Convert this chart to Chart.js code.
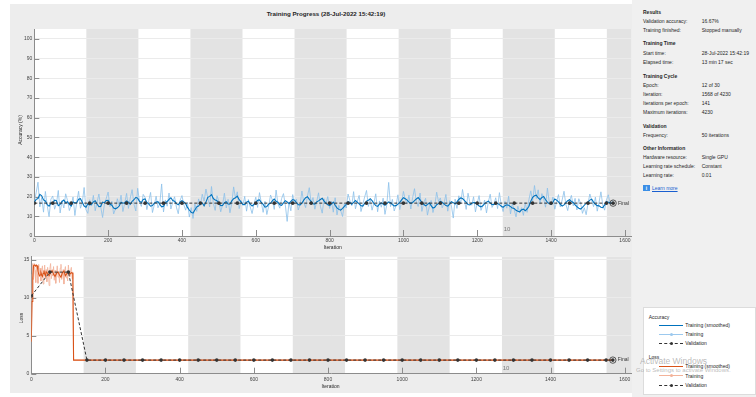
<!DOCTYPE html>
<html lang="en">
<head>
<meta charset="UTF-8" />
<title>Training Progress</title>
<script src="https://cdn.jsdelivr.net/npm/chart.js"></script>
<style>
  body { margin: 0; width: 756px; height: 397px; background: #fff; position: relative; overflow: hidden;
         font-family: "Liberation Sans", Arial, sans-serif; color: #262626; }
  .abs { position: absolute; }
  .t { position: absolute; font-size: 5px; line-height: 6px; white-space: nowrap; }
  .c { position: absolute; white-space: nowrap; transform: translate(-50%, -50%); }
  .b { font-weight: bold; }
  .ln { position: absolute; height: 0; width: 24px; left: 659px; }
  .mk { position: absolute; width: 3px; height: 3px; border-radius: 50%; left: 669.5px; }
  #painel { left: 10px; top: 4px; width: 622px; height: 389px; background: #ededed; }
  #lateral { left: 632px; top: 0; width: 124px; height: 397px; background: #f0f0f0; }
  #legenda { left: 643px; top: 307px; width: 113px; height: 88px; background: #fff; border: 1px solid #dcdcdc; box-sizing: border-box; }
  canvas { position: absolute; left: 0; }
</style>
</head>
<body>

<div class="abs" id="painel"></div>
<div class="abs" id="lateral"></div>

<div class="c b" style="left:326px; top:13.3px; font-size:6.2px;">Training Progress (28-Jul-2022 15:42:19)</div>

<canvas id="graficoAcc" width="636" height="250" style="top:0"></canvas>
<canvas id="graficoLoss" width="636" height="147" style="top:250px"></canvas>

<div class="c" style="left:20px; top:130px; font-size:5px; transform:translate(-50%,-50%) rotate(-90deg);">Accuracy (%)</div>
<div class="c" style="left:332.7px; top:247.3px; font-size:5px;">Iteration</div>
<div class="c" style="left:21px; top:317.5px; font-size:5px; transform:translate(-50%,-50%) rotate(-90deg);">Loss</div>
<div class="c" style="left:330.6px; top:386px; font-size:5px;">Iteration</div>

<div class="c" style="left:507px; top:229px; font-size:6px; color:#7a7a7a;">10</div>
<div class="c" style="left:506px; top:368.3px; font-size:6px; color:#7a7a7a;">10</div>

<!-- painel lateral -->
<div class="t b" style="left:643px; top:8.7px;">Results</div>
<div class="t" style="left:643px; top:18px;">Validation accuracy:</div><div class="t" style="left:701.7px; top:18px;">16.67%</div>
<div class="t" style="left:643px; top:27px;">Training finished:</div><div class="t" style="left:701.7px; top:27px;">Stopped manually</div>
<div class="t b" style="left:643px; top:40.3px;">Training Time</div>
<div class="t" style="left:643px; top:49.7px;">Start time:</div><div class="t" style="left:701.7px; top:49.7px;">28-Jul-2022 15:42:19</div>
<div class="t" style="left:643px; top:58.7px;">Elapsed time:</div><div class="t" style="left:701.7px; top:58.7px;">13 min 17 sec</div>
<div class="t b" style="left:643px; top:72.7px;">Training Cycle</div>
<div class="t" style="left:643px; top:82px;">Epoch:</div><div class="t" style="left:701.7px; top:82px;">12 of 30</div>
<div class="t" style="left:643px; top:91.3px;">Iteration:</div><div class="t" style="left:701.7px; top:91.3px;">1568 of 4230</div>
<div class="t" style="left:643px; top:100.3px;">Iterations per epoch:</div><div class="t" style="left:701.7px; top:100.3px;">141</div>
<div class="t" style="left:643px; top:109.3px;">Maximum iterations:</div><div class="t" style="left:701.7px; top:109.3px;">4230</div>
<div class="t b" style="left:643px; top:122.7px;">Validation</div>
<div class="t" style="left:643px; top:131.7px;">Frequency:</div><div class="t" style="left:701.7px; top:131.7px;">50 iterations</div>
<div class="t b" style="left:643px; top:145px;">Other Information</div>
<div class="t" style="left:643px; top:153.7px;">Hardware resource:</div><div class="t" style="left:701.7px; top:153.7px;">Single GPU</div>
<div class="t" style="left:643px; top:162.7px;">Learning rate schedule:</div><div class="t" style="left:701.7px; top:162.7px;">Constant</div>
<div class="t" style="left:643px; top:171.7px;">Learning rate:</div><div class="t" style="left:701.7px; top:171.7px;">0.01</div>
<div class="abs" style="left:643px; top:185px; width:7px; height:6px; background:#3a8ee6; color:#fff; font-size:5px; line-height:6px; text-align:center; font-weight:bold;">i</div>
<div class="t" style="left:652px; top:185px; color:#1a5fd0; text-decoration:underline;">Learn more</div>

<!-- legenda -->
<div class="abs" id="legenda"></div>
<div class="t" style="left:648.7px; top:313.7px;">Accuracy</div>
<div class="ln" style="top:324.5px; border-top:1px solid #0072bd;"></div>
<div class="t" style="left:685.3px; top:322px;">Training (smoothed)</div>
<div class="ln" style="top:333.5px; border-top:1px solid #9cc9ee;"></div>
<div class="mk" style="top:332.5px; background:#9cc9ee;"></div>
<div class="t" style="left:685.3px; top:331px;">Training</div>
<div class="ln" style="top:342.8px; border-top:1px dashed #333;"></div>
<div class="mk" style="top:341.8px; background:#333;"></div>
<div class="t" style="left:685.3px; top:340.3px;">Validation</div>
<div class="t" style="left:648.7px; top:353.7px;">Loss</div>
<div class="ln" style="top:365.5px; border-top:1px solid #d95319;"></div>
<div class="t" style="left:685.3px; top:363px;">Training (smoothed)</div>
<div class="ln" style="top:375.2px; border-top:1px solid #f3b39a;"></div>
<div class="mk" style="top:374.2px; background:#f3b39a;"></div>
<div class="t" style="left:685.3px; top:372.7px;">Training</div>
<div class="ln" style="top:384.5px; border-top:1px dashed #333;"></div>
<div class="mk" style="top:383.5px; background:#333;"></div>
<div class="t" style="left:685.3px; top:382px;">Validation</div>

<div class="abs" style="left:640px; top:357px; font-size:8.5px; line-height:9px; color:rgba(140,140,140,0.6); white-space:nowrap;">Activate Windows</div>
<div class="abs" style="left:636px; top:367px; font-size:6px; line-height:7px; color:rgba(140,140,140,0.6); white-space:nowrap;">Go to Settings to activate Windows.</div>

<script>
  // ---- dados ----
  var iteracoesPorEpoca = 141;
  var iteracaoFinal = 1568;
  var passo = 5;   // um ponto a cada 5 iterações nas curvas de acurácia

  var ticksX = [0, 200, 400, 600, 800, 1000, 1200, 1400, 1600];
  var ticksAcc = [0, 10, 20, 30, 40, 50, 60, 70, 80, 90, 100];
  var ticksLoss = [0, 5, 10, 15];

  var accTreino = [
    17.2, 21.9, 27.3, 14.8, 19.5, 12.1, 22.6, 15.4, 9.8, 18.7, 20.3, 13.6, 16.4, 23.1, 11.7, 17.9, 14.2, 21.4, 18.0, 12.9,
    15.6, 19.8, 10.4, 17.3, 22.7, 14.1, 16.9, 24.6, 13.3, 11.5, 18.4, 15.2, 20.6, 12.8, 17.1, 21.3, 14.7, 9.4, 16.2, 19.1,
    22.3, 14.9, 17.6, 11.2, 13.8, 18.9, 15.3, 20.7, 12.4, 16.8, 21.6, 14.0, 19.3, 23.5, 16.1, 12.7, 24.2, 17.4, 15.0, 21.1,
    19.6, 13.4, 17.8, 22.1, 11.9, 15.7, 20.2, 14.3, 16.5, 26.4, 12.2, 18.3, 15.1, 21.8, 13.7, 17.2, 19.9, 14.6, 11.3, 18.1,
    20.5, 15.9, 13.1, 17.0, 9.6, 14.4, 8.9, 16.3, 12.5, 18.8, 15.4, 21.2, 17.7, 23.8, 19.4, 14.8, 25.1, 16.6, 13.0, 20.4,
    17.5, 12.3, 15.8, 21.7, 14.2, 18.6, 11.8, 16.7, 24.9, 19.2, 22.4, 13.9, 17.9, 15.5, 20.1, 12.6, 18.5, 14.7, 11.4, 16.0,
    19.7, 14.5, 22.0, 16.9, 12.0, 17.6, 10.9, 15.3, 20.8, 18.2, 13.5, 23.3, 16.4, 14.1, 19.0, 21.5, 15.7, 7.4, 17.3, 12.8,
    21.0, 16.2, 18.7, 13.2, 15.9, 22.8, 17.0, 14.4, 20.3, 24.5, 16.8, 19.5, 13.6, 17.4, 21.9, 15.1, 11.6, 18.9, 16.3, 20.0,
    14.0, 17.7, 12.1, 19.4, 10.7, 15.6, 12.9, 9.9, 16.5, 14.2, 21.3, 18.0, 15.4, 22.5, 13.8, 17.5, 20.6, 12.4, 16.1, 19.8,
    23.1, 15.0, 18.3, 13.1, 16.7, 21.4, 12.3, 17.8, 14.6, 19.2, 11.0, 16.0, 27.2, 14.9, 18.6, 12.7, 15.5, 20.9, 13.4, 17.1,
    22.6, 18.4, 16.2, 20.7, 13.7, 19.6, 24.0, 17.2, 15.0, 21.8, 12.5, 16.9, 19.1, 10.6, 14.8, 18.0, 11.9, 15.7, 22.2, 17.5,
    19.3, 14.3, 16.6, 21.1, 12.6, 17.9, 15.2, 9.1, 18.7, 14.0, 20.4, 16.3, 23.6, 18.1, 13.5, 21.7, 17.0, 15.6, 19.9, 12.2,
    16.8, 20.5, 13.0, 15.4, 18.2, 11.7, 17.3, 21.2, 14.5, 16.1, 19.4, 13.9, 22.0, 15.8, 12.4, 17.6, 14.1, 20.2, 11.2, 16.4,
    13.3, 9.7, 15.1, 11.8, 14.4, 10.5, 16.9, 12.0, 18.5, 22.9, 17.7, 25.6, 19.0, 23.4, 16.2, 21.5, 18.8, 14.6, 24.3, 17.1,
    15.9, 19.8, 13.6, 17.4, 21.0, 14.7, 18.3, 22.7, 16.0, 12.9, 17.8, 20.6, 15.3, 19.1, 13.2, 18.9, 16.6, 11.5, 14.3, 10.8,
    16.5, 21.3, 18.0, 14.9, 19.7, 12.6, 17.2, 22.4, 15.6, 13.1, 18.4, 20.9, 16.1, 17.6
  ];
  var accTreinoFinal = 18.0;

  var accSuave = [
    17.2, 18.6, 19.0, 21.1, 20.4, 18.3, 17.8, 15.9, 15.1, 16.8, 16.3, 18.2, 17.9, 15.4, 16.0, 17.5, 18.2, 16.9, 17.4, 16.0,
    15.2, 17.3, 16.8, 17.0, 18.6, 18.9, 17.1, 15.2, 14.6, 16.4, 15.8, 16.1, 17.3, 17.9, 16.2, 14.9, 15.0, 17.2, 16.9, 18.0,
    18.1, 16.2, 15.6, 14.2, 13.8, 14.3, 15.2, 17.1, 16.6, 16.9, 17.8, 17.2, 16.1, 17.6, 18.4, 19.6, 19.2, 17.6, 17.0, 18.5,
    18.8, 17.0, 16.3, 15.1, 15.4, 16.7, 17.2, 17.4, 16.0, 14.8, 15.1, 16.9, 17.5, 18.6, 19.4, 18.0, 17.6, 16.4, 15.8, 17.3,
    17.9, 17.3, 16.4, 14.5, 13.2, 12.0, 11.6, 13.2, 14.8, 15.2, 16.5, 16.8, 15.3, 17.2, 19.6, 20.1, 21.0, 19.0, 18.2, 17.9,
    16.7, 15.4, 15.5, 16.9, 17.4, 16.2, 16.1, 17.8, 18.9, 19.4, 20.2, 18.4, 17.3, 16.0, 15.9, 17.2, 17.6, 16.1, 15.2, 16.0,
    16.8, 18.1, 18.3, 17.0, 16.0, 14.6, 14.9, 16.2, 16.6, 17.9, 18.7, 17.6, 17.1, 15.9, 15.6, 16.8, 17.9, 17.3, 16.4, 17.6,
    18.5, 18.1, 17.0, 15.9, 15.8, 16.7, 18.2, 19.4, 19.9, 18.6, 17.5, 16.4, 16.2, 17.3, 17.8, 18.5, 19.1, 17.7, 16.6, 15.8,
    15.4, 16.2, 17.2, 15.6, 14.3, 13.5, 13.1, 14.0, 15.0, 16.1, 17.4, 17.0, 16.1, 17.1, 18.0, 17.2, 16.3, 15.4, 15.2, 16.5,
    17.7, 18.1, 18.9, 17.9, 16.5, 15.4, 15.0, 16.1, 16.8, 16.2, 15.6, 16.4, 17.3, 16.9, 16.0, 15.3, 15.4, 16.2, 17.1, 18.3,
    19.4, 18.9, 18.2, 17.2, 16.6, 17.0, 17.9, 18.8, 19.5, 18.3, 17.0, 16.1, 15.3, 15.9, 16.8, 15.4, 14.2, 14.6, 15.9, 16.4,
    17.6, 17.2, 16.3, 15.4, 15.1, 16.2, 17.4, 16.9, 16.2, 17.3, 18.6, 19.3, 19.0, 18.1, 17.1, 16.0, 15.8, 16.6, 17.0, 16.8,
    16.1, 15.2, 14.8, 15.3, 16.4, 17.2, 17.7, 16.8, 15.9, 16.0, 16.6, 16.5, 15.9, 15.1, 14.6, 15.4, 15.8, 15.6, 14.9, 14.2,
    13.9, 13.0, 12.6, 12.2, 13.3, 13.6, 12.8, 13.7, 15.1, 17.6, 19.6, 20.4, 20.7, 19.3, 18.5, 19.5, 20.0, 18.4, 17.2, 16.3,
    16.0, 17.1, 18.8, 18.2, 17.3, 16.1, 15.2, 15.8, 16.9, 17.9, 18.4, 17.5, 17.0, 15.8, 14.9, 14.1, 13.7, 14.5, 15.6, 16.7,
    17.2, 18.2, 18.7, 17.2, 16.1, 15.4, 15.3, 14.6, 14.4, 15.8, 17.4, 17.1, 16.8, 16.5
  ];
  var accSuaveFinal = 16.9;

  var valIter = [0, 50, 100, 150, 200, 250, 300, 350, 400, 450, 500, 550, 600, 650, 700, 750,
                 800, 850, 900, 950, 1000, 1050, 1100, 1150, 1200, 1250, 1300, 1350, 1400, 1450, 1500, 1550, 1568];
  var valAcc = [16.67, 16.67, 16.67, 16.67, 16.67, 16.67, 16.67, 16.67, 16.67, 16.67, 16.67,
                16.67, 16.67, 16.67, 16.67, 16.67, 16.67, 16.67, 16.67, 16.67, 16.67, 16.67,
                16.67, 16.67, 16.67, 16.67, 16.67, 16.67, 16.67, 16.67, 16.67, 16.67, 16.67];
  var valLoss = [10.23, 13.37, 13.37, 1.79, 1.79, 1.79, 1.79, 1.79, 1.79, 1.79, 1.79,
                 1.79, 1.79, 1.79, 1.79, 1.79, 1.79, 1.79, 1.79, 1.79, 1.79, 1.79,
                 1.79, 1.79, 1.79, 1.79, 1.79, 1.79, 1.79, 1.79, 1.79, 1.79, 1.79];

  var lossIter = [0, 2, 4, 6, 8, 10, 12, 14, 16, 18, 20, 22, 24, 26, 28, 30, 32, 34, 36, 38, 40,
                  42, 44, 46, 48, 50, 52, 54, 56, 58, 60, 62, 64, 66, 68, 70, 72, 74, 76, 78, 80,
                  82, 84, 86, 88, 90, 92, 94, 96, 98, 100, 102, 104, 106, 108, 110, 112, 114, 1568];
  var lossTreino = [4.2, 13.1, 14.5, 12.4, 14.5, 13.6, 12.0, 14.1, 13.2, 11.9, 14.4, 12.8, 13.9, 12.2, 13.5,
                    14.2, 11.8, 13.0, 14.3, 12.6, 13.7, 12.1, 14.0, 13.3, 11.6, 13.8, 14.5, 12.5, 13.1, 12.9,
                    14.1, 12.3, 13.6, 11.9, 13.2, 14.2, 12.7, 13.4, 12.0, 13.9, 14.4, 12.4, 13.0, 13.7, 11.8,
                    13.5, 14.1, 12.6, 13.3, 12.2, 14.3, 13.1, 12.8, 13.6, 14.0, 12.5, 13.4, 1.79, 1.79];

  var lossSuaveIter = [0, 2, 4, 6, 8, 10, 12, 14, 16, 18, 20, 22, 24, 26, 28, 30, 32, 34, 36, 38, 40,
                       44, 48, 52, 56, 60, 64, 68, 72, 76, 80, 84, 88, 92, 96, 100, 104, 108, 112, 114, 1568];
  var lossSuave = [4.2, 9.5, 12.6, 14.2, 14.3, 14.3, 14.2, 14.3, 14.2, 13.5, 13.1, 12.9, 13.0, 13.3, 13.0,
                   12.8, 13.2, 13.6, 13.1, 12.9, 13.4, 13.2, 12.9, 13.3, 13.6, 13.1, 12.8, 13.2, 13.4, 13.0,
                   12.7, 13.3, 13.5, 12.9, 13.2, 13.4, 13.1, 13.3, 13.2, 1.79, 1.79];

  // ---- montagem ----
  var fonte = '"Liberation Sans", Arial, sans-serif';

  function pontos(xs, ys) {
    var r = [];
    for (var i = 0; i < ys.length; i++) r.push({ x: xs[i], y: ys[i] });
    return r;
  }
  function pontosPasso(ys, final) {
    var r = [];
    for (var i = 0; i < ys.length; i++) r.push({ x: i * passo, y: ys[i] });
    r.push({ x: iteracaoFinal, y: final });
    return r;
  }
  function fixarTicks(lista) {
    return function (scale) {
      scale.ticks = lista.map(function (v) { return { value: v }; });
    };
  }

  var fundo = {
    id: "fundo",
    beforeDraw: function (chart) {
      var a = chart.chartArea, ctx = chart.ctx, x = chart.scales.x;
      ctx.save();
      ctx.fillStyle = "#ffffff";
      ctx.fillRect(a.left, a.top, a.right - a.left, a.bottom - a.top);
      ctx.fillStyle = "#e3e3e3";
      for (var ep = 1; ep * iteracoesPorEpoca < x.max; ep += 2) {
        var x0 = x.getPixelForValue(ep * iteracoesPorEpoca);
        var x1 = Math.min(x.getPixelForValue((ep + 1) * iteracoesPorEpoca), a.right);
        ctx.fillRect(x0, a.top, x1 - x0, a.bottom - a.top);
      }
      ctx.restore();
    }
  };

  var marcas = {
    id: "marcas",
    beforeDatasetsDraw: function (chart) {
      var a = chart.chartArea, ctx = chart.ctx;
      ctx.save();
      ctx.strokeStyle = "#8c8c8c";
      ctx.lineWidth = 1;
      chart.scales.y.ticks.forEach(function (t) {
        var y = Math.round(chart.scales.y.getPixelForValue(t.value)) + 0.5;
        ctx.beginPath(); ctx.moveTo(a.left, y); ctx.lineTo(a.left + 5, y); ctx.stroke();
      });
      chart.scales.x.ticks.forEach(function (t) {
        var x = Math.round(chart.scales.x.getPixelForValue(t.value)) + 0.5;
        ctx.beginPath(); ctx.moveTo(x, a.bottom); ctx.lineTo(x, a.bottom - 6); ctx.stroke();
      });
      ctx.restore();
    },
    afterDatasetsDraw: function (chart) {
      var p = chart.data.datasets[0].data[0];
      var ctx = chart.ctx;
      ctx.save();
      ctx.fillStyle = "#333";
      ctx.font = "5px " + fonte;
      ctx.textBaseline = "middle";
      ctx.fillText("Final", chart.scales.x.getPixelForValue(p.x) + 5, chart.scales.y.getPixelForValue(p.y));
      ctx.restore();
    }
  };

  function criarGrafico(canvas, cfg) {
    var eixo = { size: 5, family: fonte };
    return new Chart(canvas, {
      type: "line",
      data: {
        datasets: [
          { data: [{ x: iteracaoFinal, y: cfg.final }], showLine: false, pointRadius: 3.2,
            pointBackgroundColor: "rgba(0,0,0,0)", pointBorderColor: "#333", pointBorderWidth: 0.8, order: 0 },
          { data: cfg.val, borderColor: "#333", borderWidth: 1, borderDash: [3, 2],
            pointRadius: 1.8, pointBackgroundColor: "#333", pointBorderWidth: 0, order: 1 },
          { data: cfg.suave, borderColor: cfg.corSuave, borderWidth: 1.1, pointRadius: 0, order: 2 },
          { data: cfg.bruto, borderColor: cfg.corBruto, borderWidth: 0.8, pointRadius: 0, order: 3 }
        ]
      },
      options: {
        responsive: false,
        animation: false,
        devicePixelRatio: 1,
        layout: { padding: cfg.padding },
        plugins: { legend: { display: false }, tooltip: { enabled: false } },
        scales: {
          x: {
            type: "linear", min: 0, max: 1617,
            ticks: { font: eixo, color: "#444", padding: cfg.padX, maxRotation: 0, autoSkip: false,
                     callback: function (v) { return String(v); } },
            afterBuildTicks: fixarTicks(ticksX),
            grid: { drawOnChartArea: false, drawTicks: false },
            border: { color: "#8c8c8c" },
            afterFit: function (s) { s.height = cfg.alturaX; }
          },
          y: {
            min: 0, max: cfg.maxY,
            ticks: { font: eixo, color: "#444", padding: cfg.padY },
            afterBuildTicks: fixarTicks(cfg.ticksY),
            grid: { color: "#ebebeb", drawTicks: false },
            border: { color: "#8c8c8c" },
            afterFit: function (s) { s.width = cfg.larguraY; }
          }
        }
      },
      plugins: [fundo, marcas]
    });
  }

  criarGrafico(document.getElementById("graficoAcc"), {
    final: valAcc[valAcc.length - 1],
    val: pontos(valIter, valAcc),
    suave: pontosPasso(accSuave, accSuaveFinal),
    bruto: pontosPasso(accTreino, accTreinoFinal),
    corSuave: "#0072bd", corBruto: "#8cc0ea",
    maxY: 105, ticksY: ticksAcc,
    padding: { left: 0, top: 29, right: 4.7, bottom: 0 },
    alturaX: 14, larguraY: 34.3, padX: 2, padY: 2
  });

  criarGrafico(document.getElementById("graficoLoss"), {
    final: valLoss[valLoss.length - 1],
    val: pontos(valIter, valLoss),
    suave: pontos(lossSuaveIter, lossSuave),
    bruto: pontos(lossIter, lossTreino),
    corSuave: "#d95319", corBruto: "#f3b39a",
    maxY: 15.4, ticksY: ticksLoss,
    padding: { left: 0, top: 6.7, right: 5, bottom: 0 },
    alturaX: 23.3, larguraY: 31.3, padX: 3, padY: 2
  });
</script>
</body>
</html>
